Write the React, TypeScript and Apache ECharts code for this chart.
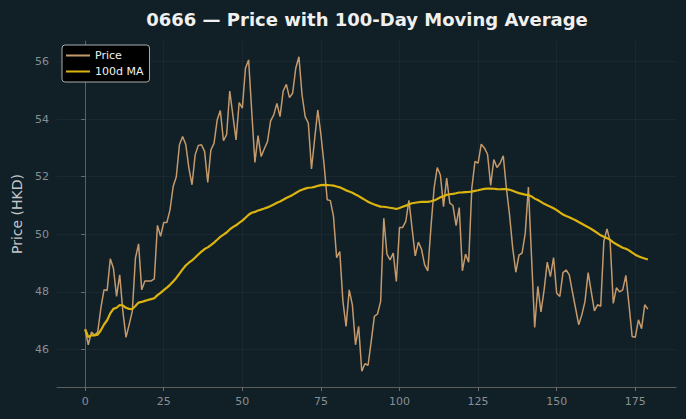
import React, { useEffect, useRef } from "react";
import * as echarts from "echarts";

const TITLE = "0666 — Price with 100-Day Moving Average";
const Y_NAME = "Price (HKD)";
const SERIES_PRICE = "Price";
const SERIES_MA = "100d MA";
const MA_WINDOW = 100;

const price: number[] = [
  46.70, 46.16, 46.60, 46.50, 46.60, 47.43, 48.07, 48.05, 49.15, 48.82,
  47.84, 48.59, 47.32, 46.42, 46.86, 47.32, 49.17, 49.67, 48.07, 48.38,
  48.38, 48.38, 48.45, 50.31, 49.93, 50.41, 50.41, 50.85, 51.66, 52.00,
  53.11, 53.40, 53.13, 52.30, 51.72, 52.76, 53.09, 53.11, 52.88, 51.80,
  52.93, 53.16, 53.97, 54.30, 53.25, 53.46, 54.98, 54.13, 53.28, 54.58,
  54.38, 55.77, 56.06, 54.26, 52.50, 53.43, 52.70, 52.97, 53.22, 53.94,
  54.15, 54.55, 54.09, 54.98, 55.21, 54.75, 54.90, 55.77, 56.17, 54.84,
  54.09, 53.86, 52.27, 53.30, 54.32, 53.46, 52.43, 51.20, 51.17, 50.62,
  49.19, 49.40, 47.67, 46.80, 48.07, 47.55, 46.16, 46.80, 45.24, 45.50,
  45.45, 46.28, 47.15, 47.23, 47.67, 50.56, 49.31, 49.11, 49.35, 48.36,
  50.24, 50.24, 50.45, 51.18, 50.20, 49.25, 49.73, 49.48, 48.94, 48.73,
  50.24, 51.60, 52.32, 52.06, 50.96, 51.95, 51.08, 51.00, 50.30, 50.93,
  48.73, 49.31, 49.03, 51.60, 52.53, 52.47, 53.13, 53.00, 52.78, 51.70,
  52.60, 52.32, 52.47, 52.73, 51.60, 50.68, 49.53, 48.68, 49.28, 49.35,
  50.04, 51.64, 49.20, 46.76, 48.19, 47.30, 48.07, 49.03, 48.53, 49.19,
  47.95, 47.84, 48.67, 48.76, 48.59, 48.00, 47.43, 46.86, 47.20, 47.67,
  48.67, 48.00, 47.34, 47.55, 47.50, 49.75, 50.19, 49.75, 47.60, 48.14,
  48.00, 48.07, 48.57, 47.55, 46.45, 46.42, 47.03, 46.72, 47.55, 47.40,
];

const xTicks: number[] = [0, 25, 50, 75, 100, 125, 150, 175];
const yTicks: number[] = [46, 48, 50, 52, 54, 56];

// Rolling mean (expanding until the window is full), as the chart's MA
function rollingMean(values: number[], window: number): number[] {
  const out: number[] = [];
  let sum = 0;
  for (let i = 0; i < values.length; i++) {
    sum += values[i];
    if (i >= window) sum -= values[i - window];
    const n = Math.min(i + 1, window);
    out.push(sum / n);
  }
  return out;
}

const BG = "#111f26";
const FONT = "DejaVu Sans";
const PRICE_COLOR = "#c49a6c";
const MA_COLOR = "#dcb40f";
const LINE_ICON = "path://M0,0 L24,0 L24,2 L0,2 Z";

export default function App() {
  const ref = useRef<HTMLDivElement>(null);
  useEffect(() => {
    if (!ref.current) return;
    const chart = echarts.init(ref.current, null, { renderer: "svg" });
    const ma = rollingMean(price, MA_WINDOW);
    const priceData = price.map((v, i) => [i, v]);
    const maData = ma.map((v, i) => [i, v]);
    const n = price.length - 1;
    const xPad = n * 0.05;
    const yMin = Math.min(...price);
    const yMax = Math.max(...price);
    const yPad = (yMax - yMin) * 0.05;

    chart.setOption({
      animation: false,
      backgroundColor: BG,
      textStyle: { fontFamily: FONT },
      title: {
        text: TITLE,
        left: 362,
        textAlign: "center",
        top: 5,
        textStyle: { color: "#f0f0f0", fontSize: 18, fontWeight: "bold", fontFamily: FONT },
      },
      legend: {
        orient: "vertical",
        left: 62,
        top: 45,
        padding: [5, 6, 5, 4],
        itemWidth: 24,
        itemHeight: 10,
        itemGap: 5,
        backgroundColor: "#000000",
        borderColor: "#a9adb0",
        borderWidth: 1,
        borderRadius: 3,
        textStyle: { color: "#f0f0f0", fontSize: 11, fontFamily: FONT },
        data: [
          { name: SERIES_PRICE, icon: LINE_ICON, itemStyle: { color: PRICE_COLOR } },
          { name: SERIES_MA, icon: LINE_ICON, itemStyle: { color: MA_COLOR } },
        ],
      },
      grid: { left: 57, right: 10, top: 41, bottom: 32, outerBoundsMode: "none" },
      xAxis: {
        type: "value",
        min: -xPad,
        max: n + xPad,
        axisLine: { show: true, lineStyle: { color: "#5d5d5d", width: 1 } },
        axisTick: { show: true, length: 4, customValues: xTicks, lineStyle: { color: "#6a6a6a" } },
        axisLabel: { customValues: xTicks, color: "#878f94", fontSize: 11, margin: 9, fontFamily: FONT },
        splitLine: { show: true, lineStyle: { color: "rgba(255,255,255,0.04)", width: 1 } },
      },
      yAxis: {
        type: "value",
        min: yMin - yPad,
        max: yMax + yPad,
        name: Y_NAME,
        nameLocation: "middle",
        nameGap: 33,
        nameTextStyle: { color: "#c3c8cb", fontSize: 14, fontFamily: FONT },
        axisLine: { show: true, lineStyle: { color: "#5d5d5d", width: 1 } },
        axisTick: { show: true, length: 4, customValues: yTicks, lineStyle: { color: "#6a6a6a" } },
        axisLabel: { customValues: yTicks, color: "#878f94", fontSize: 11, margin: 8, fontFamily: FONT },
        splitLine: { show: true, lineStyle: { color: "rgba(255,255,255,0.04)", width: 1 } },
      },
      series: [
        {
          name: SERIES_PRICE,
          type: "line",
          data: priceData,
          showSymbol: false,
          symbol: "none",
          lineStyle: { color: PRICE_COLOR, width: 1.5 },
          itemStyle: { color: PRICE_COLOR },
          z: 2,
        },
        {
          name: SERIES_MA,
          type: "line",
          data: maData,
          showSymbol: false,
          symbol: "none",
          lineStyle: { color: MA_COLOR, width: 2.2 },
          itemStyle: { color: MA_COLOR },
          z: 3,
        },
      ],
    });
    return () => chart.dispose();
  }, []);
  return (
    <div
      ref={ref}
      style={{ position: "fixed", left: 0, top: 0, width: 686, height: 419 }}
    />
  );
}
